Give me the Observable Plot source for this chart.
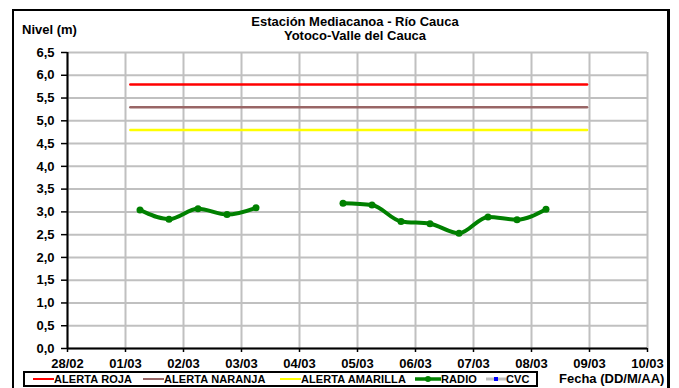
<!DOCTYPE html>
<html>
<head>
<meta charset="utf-8">
<script src="https://cdn.jsdelivr.net/npm/d3@7"></script>
<script src="https://cdn.jsdelivr.net/npm/@observablehq/plot@0.6"></script>
<style>
  html, body { margin: 0; padding: 0; background: #fff; }
  body { font-family: "Liberation Sans", Arial, sans-serif; }
  #wrap { position: relative; width: 679px; height: 388px; overflow: hidden; }
  .ov { position: absolute; font-weight: bold; color: #000; white-space: nowrap; }
  #frame { position: absolute; left: 12px; top: 9px; width: 658px; height: 400px;
           border-left: 2.5px solid #000; border-top: 2.5px solid #000; border-right: 3px solid #000; box-sizing: border-box; pointer-events: none; }
  #title { left: 355px; top: 15px; transform: translateX(-50%); text-align: center; font-size: 13px; line-height: 14px; }
  #ylab { left: 22px; top: 22px; font-size: 13px; }
  #legend { position: absolute; left: 23px; top: 371px; width: 515px; height: 16px; border: 2px solid #000; box-sizing: border-box; }
  .li { position: absolute; top: 0px; font-size: 11px; font-weight: bold; line-height: 12px; display: flex; align-items: center; letter-spacing: 0.1px; }
  #xlab { left: 559px; top: 371px; font-size: 13px; }
</style>
</head>
<body>
<div id="wrap"></div>
<script>
// ---- data ----
const xTickDates = ["2011-02-28","2011-03-01","2011-03-02","2011-03-03","2011-03-04","2011-03-05","2011-03-06","2011-03-07","2011-03-08","2011-03-09","2011-03-10"];
const xTickLabels = ["28/02","01/03","02/03","03/03","04/03","05/03","06/03","07/03","08/03","09/03","10/03"];
const yTicks = [0,0.5,1,1.5,2,2.5,3,3.5,4,4.5,5,5.5,6,6.5];
const yTickLabels = ["0,0","0,5","1,0","1,5","2,0","2,5","3,0","3,5","4,0","4,5","5,0","5,5","6,0","6,5"];

const radioTime = ["2011-03-01T06:00Z","2011-03-01T18:00Z","2011-03-02T06:00Z","2011-03-02T18:00Z","2011-03-03T06:00Z","2011-03-03T18:00Z","2011-03-04T06:00Z","2011-03-04T18:00Z","2011-03-05T06:00Z","2011-03-05T18:00Z","2011-03-06T06:00Z","2011-03-06T18:00Z","2011-03-07T06:00Z","2011-03-07T18:00Z","2011-03-08T06:00Z"];
const radioLevel = [3.04, 2.84, 3.07, 2.94, 3.09, null, null, 3.19, 3.15, 2.79, 2.74, 2.53, 2.89, 2.83, 3.06];

const alertNames = ["ALERTA ROJA","ALERTA NARANJA","ALERTA AMARILLA"];
const alertLevels = [5.8, 5.3, 4.8];
const alertColors = ["#ff0000","#996666","#ffff00"];
const alertStart = "2011-03-01T02:00Z";
const alertEnd = "2011-03-08T23:00Z";

const radioColor = "#008000";
const gridColor = "#c0c0c0";

// ---- build tables ----
const xTicks = xTickDates.map(d => new Date(d + "T00:00Z"));
const labelOf = new Map(xTicks.map((d, i) => [+d, xTickLabels[i]]));
const yLabelOf = new Map(yTicks.map((v, i) => [v, yTickLabels[i]]));
const radio = radioTime.map((t, i) => ({t: new Date(t), v: radioLevel[i]}));
const alerts = [];
alertNames.forEach((n, i) => {
  alerts.push({name: n, t: new Date(alertStart), v: alertLevels[i]});
  alerts.push({name: n, t: new Date(alertEnd), v: alertLevels[i]});
});

const chart = Plot.plot({
  width: 679, height: 388,
  marginLeft: 67, marginRight: 32, marginTop: 52, marginBottom: 40,
  style: {fontFamily: "'Liberation Sans', Arial, sans-serif", fontSize: "13px", fontWeight: "bold", color: "#000", background: "white"},
  x: {type: "utc", domain: [xTicks[0], xTicks[xTicks.length - 1]]},
  y: {domain: [0, 6.5]},
  color: {domain: alertNames, range: alertColors},
  marks: [
    Plot.gridY(yTicks, {stroke: gridColor, strokeOpacity: 1, strokeWidth: 2}),
    Plot.gridX(xTicks, {stroke: gridColor, strokeOpacity: 1, strokeWidth: 2}),
    Plot.line(alerts, {x: "t", y: "v", z: "name", stroke: "name", strokeWidth: 2.5}),
    Plot.line(radio, {x: "t", y: "v", stroke: radioColor, strokeWidth: 4, curve: "monotone-x"}),
    Plot.dot(radio, {x: "t", y: "v", r: 3.5, fill: radioColor, stroke: "none"}),
    Plot.ruleX([xTicks[0]], {stroke: "#000", strokeWidth: 2}),
    Plot.ruleY([0], {stroke: "#000", strokeWidth: 2}),
    Plot.axisY(yTicks, {tickFormat: v => yLabelOf.get(v), tickSize: 6, tickPadding: 7, label: null, strokeWidth: 1.5}),
    Plot.axisX(xTicks, {tickFormat: d => labelOf.get(+d), tickSize: 4, tickPadding: 6, label: null, strokeWidth: 1.5})
  ]
});

const wrap = document.getElementById("wrap");
wrap.appendChild(chart);

function add(html) { wrap.insertAdjacentHTML("beforeend", html); }
add('<div id="frame"></div>');
add('<div class="ov" id="title">Estación Mediacanoa - Río Cauca<br>Yotoco-Valle del Cauca</div>');
add('<div class="ov" id="ylab">Nivel (m)</div>');
add('<div class="ov" id="xlab">Fecha (DD/M/AA)</div>');

// legend
const legendItems = [
  {label: alertNames[0], color: alertColors[0], x: 8, kind: "line"},
  {label: alertNames[1], color: alertColors[1], x: 118, kind: "line"},
  {label: alertNames[2], color: alertColors[2], x: 255, kind: "line"},
  {label: "RADIO", color: radioColor, x: 390, kind: "radio"},
  {label: "CVC", color: "#0000ff", x: 461, kind: "cvc"}
];
let lg = '<div id="legend">';
for (const it of legendItems) {
  let sw;
  if (it.kind === "line") sw = `<svg width="21" height="10"><line x1="0" x2="21" y1="5" y2="5" stroke="${it.color}" stroke-width="2"/></svg>`;
  else if (it.kind === "radio") sw = `<svg width="26" height="10"><line x1="0" x2="26" y1="5" y2="5" stroke="${it.color}" stroke-width="3.5"/><circle cx="13" cy="5" r="3" fill="${it.color}"/></svg>`;
  else sw = `<svg width="20" height="10"><line x1="0" x2="20" y1="5" y2="5" stroke="#c0c0c0" stroke-width="3"/><rect x="8" y="3" width="4" height="4" fill="${it.color}"/></svg>`;
  lg += `<div class="li" style="left:${it.x}px">${sw}<span>${it.label}</span></div>`;
}
lg += '</div>';
add(lg);
</script>
</body>
</html>
